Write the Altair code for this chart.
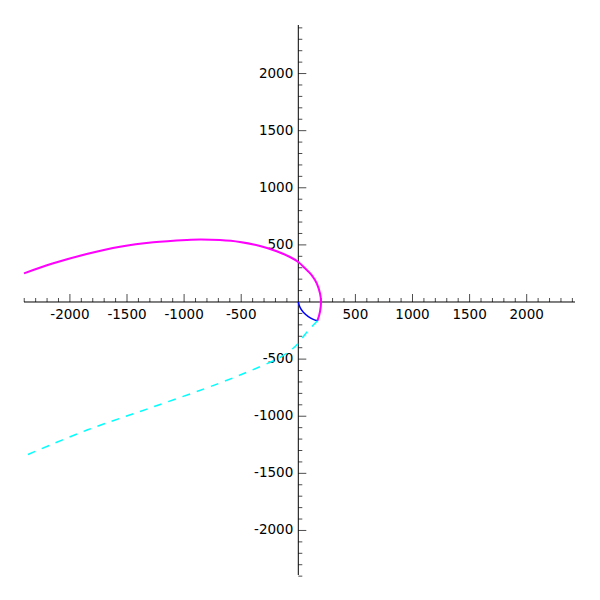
import altair as alt
import pandas as pd

# ---- data ----
magenta_x = [-2402, -2145, -1853, -1561, -1270, -977, -858, -686, -511, -335, -189, -73, 0, 59, 117, 161, 190, 199, 190, 168]
magenta_y = [251, 339, 420, 484, 523, 543, 547, 542, 525, 490, 444, 394, 350, 295, 236, 164, 76, 3, -85, -164]

blue_x = [0, 15, 44, 88, 131, 168]
blue_y = [0, -47, -90, -128, -152, -164]

cyan_x = [168, 74, -14, -150, -335, -686, -1272, -1850, -2380]
cyan_y = [-164, -265, -376, -480, -566, -709, -919, -1121, -1340]

x_domain = [-2402, 2423]
y_domain = [-2390, 2425]

major_ticks = [-2000, -1500, -1000, -500, 500, 1000, 1500, 2000]
minor_ticks = [v for v in range(-2400, 2401, 100) if v % 500 != 0]
tick_labels = ["-2000", "-1500", "-1000", "-500", "500", "1000", "1500", "2000"]

FONT = "DejaVu Sans"

xs = alt.Scale(domain=x_domain, nice=False, zero=False)
ys = alt.Scale(domain=y_domain, nice=False, zero=False)


def series_df(xv, yv):
    return pd.DataFrame({"x": xv, "y": yv, "i": list(range(len(xv)))})


def X(field="x"):
    return alt.X(f"{field}:Q", scale=xs, axis=None)


def Y(field="y"):
    return alt.Y(f"{field}:Q", scale=ys, axis=None)


zero_df = pd.DataFrame({"v": [0]})
x_axis_line = alt.Chart(zero_df).mark_rule(color="black", strokeWidth=1).encode(y=Y("v"))
y_axis_line = alt.Chart(zero_df).mark_rule(color="black", strokeWidth=1).encode(x=X("v"))

xmaj = pd.DataFrame({"x": major_ticks, "y": [0] * len(major_ticks)})
xmin = pd.DataFrame({"x": minor_ticks, "y": [0] * len(minor_ticks)})
ymaj = pd.DataFrame({"x": [0] * len(major_ticks), "y": major_ticks})
ymin = pd.DataFrame({"x": [0] * len(minor_ticks), "y": minor_ticks})

x_major_ticks = alt.Chart(xmaj).mark_tick(orient="vertical", size=8, thickness=1, yOffset=-4, color="black").encode(x=X(), y=Y())
x_minor_ticks = alt.Chart(xmin).mark_tick(orient="vertical", size=4, thickness=1, yOffset=-2, color="black").encode(x=X(), y=Y())
y_major_ticks = alt.Chart(ymaj).mark_tick(orient="horizontal", size=8, thickness=1, xOffset=4, color="black").encode(x=X(), y=Y())
y_minor_ticks = alt.Chart(ymin).mark_tick(orient="horizontal", size=4, thickness=1, xOffset=2, color="black").encode(x=X(), y=Y())

xlab = pd.DataFrame({"x": major_ticks, "y": [0] * len(major_ticks), "t": tick_labels})
ylab = pd.DataFrame({"x": [0] * len(major_ticks), "y": major_ticks, "t": tick_labels})

x_labels = alt.Chart(xlab).mark_text(dy=13, align="center", baseline="middle", font=FONT, fontSize=13.5, color="black").encode(x=X(), y=Y(), text="t:N")
y_labels = alt.Chart(ylab).mark_text(dx=-5, align="right", baseline="middle", font=FONT, fontSize=13.5, color="black").encode(x=X(), y=Y(), text="t:N")

magenta = alt.Chart(series_df(magenta_x, magenta_y)).mark_line(color="#ff00ff", strokeWidth=2, interpolate="catmull-rom").encode(x=X(), y=Y(), order="i:Q")
blue = alt.Chart(series_df(blue_x, blue_y)).mark_line(color="#0000ff", strokeWidth=1.5, interpolate="catmull-rom").encode(x=X(), y=Y(), order="i:Q")
cyan = alt.Chart(series_df(cyan_x, cyan_y)).mark_line(color="#00ffff", strokeWidth=1.5, strokeDash=[8, 7], interpolate="catmull-rom").encode(x=X(), y=Y(), order="i:Q")

chart = alt.layer(
    x_axis_line, y_axis_line,
    x_major_ticks, x_minor_ticks, y_major_ticks, y_minor_ticks,
    x_labels, y_labels,
    magenta, blue, cyan,
).properties(
    width=551,
    height=550,
    autosize=alt.AutoSizeParams(type="none"),
    padding={"left": 16, "top": 17, "right": 10, "bottom": 10},
).configure_view(stroke=None)

chart.save("out.html", embed_options={"renderer": "svg", "actions": False})
